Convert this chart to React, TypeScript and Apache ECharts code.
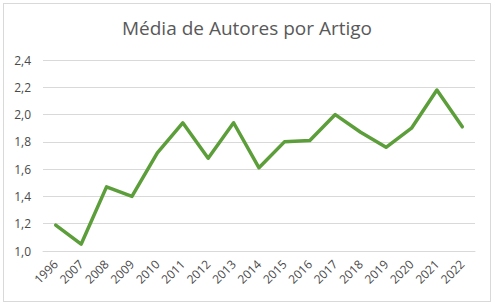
import React, { useEffect, useRef } from "react";
import * as echarts from "echarts";

const years = ["1996", "2007", "2008", "2009", "2010", "2011", "2012", "2013", "2014", "2015", "2016", "2017", "2018", "2019", "2020", "2021", "2022"];
const mediaAutores = [1.19, 1.05, 1.47, 1.40, 1.72, 1.94, 1.68, 1.94, 1.61, 1.80, 1.81, 2.00, 1.87, 1.76, 1.90, 2.18, 1.91];
const titleText = "Média de Autores por Artigo";

export default function App() {
  const ref = useRef<HTMLDivElement>(null);
  useEffect(() => {
    if (!ref.current) return;
    const chart = echarts.init(ref.current, undefined, { renderer: "svg" });
    chart.setOption({
      animation: false,
      backgroundColor: "#ffffff",
      title: {
        text: titleText,
        left: "center",
        top: 9,
        textStyle: { color: "#595959", fontSize: 19, fontWeight: "normal", fontFamily: "Open Sans" },
      },
      grid: { left: 39, right: 15, top: 56, bottom: 50 },
      xAxis: {
        type: "category",
        data: years,
        boundaryGap: true,
        axisLine: { show: true, lineStyle: { color: "#d9d9d9" } },
        axisTick: { show: false },
        axisLabel: { rotate: 45, color: "#4a4a4a", fontSize: 12, fontFamily: "Open Sans", margin: 11, interval: 0 },
      },
      yAxis: {
        type: "value",
        min: 1.0,
        max: 2.4,
        interval: 0.2,
        axisLine: { show: false },
        axisTick: { show: false },
        splitLine: { lineStyle: { color: "#d9d9d9", width: 1 } },
        axisLabel: {
          color: "#4a4a4a",
          fontSize: 12,
          fontFamily: "Open Sans",
          margin: 12,
          formatter: (v: number) => v.toFixed(1).replace(".", ","),
        },
      },
      series: [
        {
          type: "line",
          data: mediaAutores,
          symbol: "none",
          lineStyle: { color: "#5c9e3a", width: 3.5, join: "round", cap: "round" },
        },
      ],
    });
    return () => chart.dispose();
  }, []);
  return (
    <div style={{ position: "fixed", left: 0, top: 0, width: 495, height: 307, background: "#fff" }}>
      <div
        ref={ref}
        style={{ position: "absolute", left: 3, top: 3, width: 488, height: 299, border: "1px solid #d9d9d9", boxSizing: "border-box" }}
      />
    </div>
  );
}
